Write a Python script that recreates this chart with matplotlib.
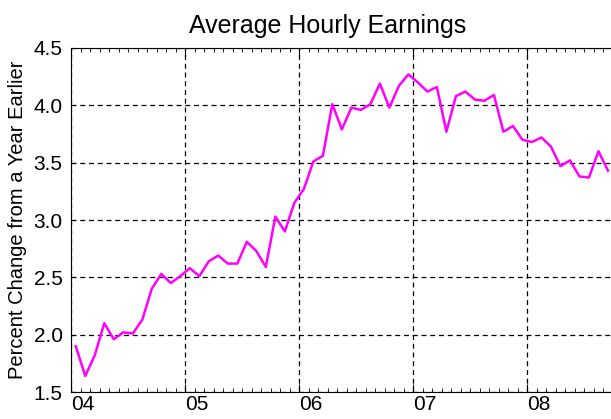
import numpy as np
import matplotlib
matplotlib.use("Agg")
import matplotlib.pyplot as plt
from matplotlib.ticker import MultipleLocator

plt.rcParams['font.family'] = ['Liberation Sans', 'DejaVu Sans']

# Monthly values, Jan 2004 - Sep 2008 (percent change from a year earlier)
earnings_2004 = [1.90, 1.64, 1.82, 2.10, 1.96, 2.02, 2.01, 2.13, 2.40, 2.53, 2.45, 2.51]
earnings_2005 = [2.58, 2.51, 2.64, 2.69, 2.62, 2.62, 2.81, 2.73, 2.59, 3.03, 2.90, 3.15]
earnings_2006 = [3.27, 3.51, 3.56, 4.01, 3.79, 3.98, 3.96, 4.01, 4.19, 3.98, 4.17, 4.27]
earnings_2007 = [4.20, 4.12, 4.16, 3.77, 4.08, 4.12, 4.05, 4.04, 4.09, 3.77, 3.82, 3.70]
earnings_2008 = [3.68, 3.72, 3.64, 3.47, 3.52, 3.38, 3.37, 3.60, 3.43]

year_ticks = [2004, 2005, 2006, 2007, 2008]
year_labels = ['04', '05', '06', '07', '08']

values = np.array(earnings_2004 + earnings_2005 + earnings_2006 + earnings_2007 + earnings_2008)
# each point sits in the middle of its month
dates = 2004 + (np.arange(len(values)) + 0.5) / 12.0

fig = plt.figure(figsize=(6.11, 4.19), dpi=100)
ax = fig.add_axes([71 / 611, 1 - 392 / 419, 1 - 71 / 611, (392 - 48) / 419])

ax.plot(dates, values, color='#ff00ff', linewidth=1.8)

ax.set_xlim(2004, 2008.735)
ax.set_ylim(1.5, 4.5)
ax.set_xticks(year_ticks)
ax.set_xticklabels(year_labels, ha='left')
ax.xaxis.set_minor_locator(MultipleLocator(1 / 12))
ax.yaxis.set_major_locator(MultipleLocator(0.5))
ax.yaxis.set_major_formatter(plt.FormatStrFormatter('%.1f'))

ax.grid(True, which='major', color='black', linestyle=(0, (4, 3)), linewidth=0.9)
ax.tick_params(axis='x', which='major', direction='in', top=True, length=6,
               labelsize=15, pad=2)
ax.tick_params(axis='x', which='minor', direction='in', top=True, length=3)
ax.tick_params(axis='y', which='major', direction='in', length=3, labelsize=15, pad=6)
ax.spines['right'].set_visible(False)

ax.set_title('Average Hourly Earnings', fontsize=18, pad=11, x=(328 - 71) / 540)
ax.set_ylabel('Percent Change from a Year Earlier', fontsize=14.5, labelpad=5)

fig.savefig('out.png', dpi=100)
